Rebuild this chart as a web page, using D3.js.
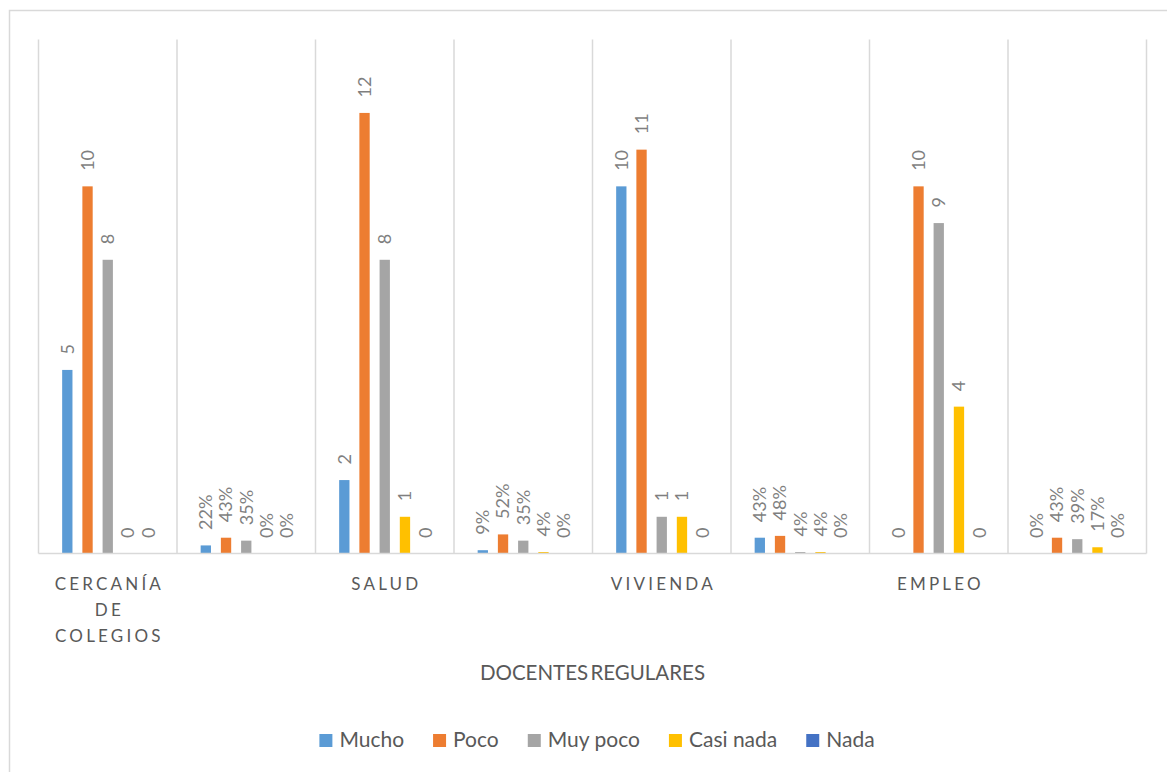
<!DOCTYPE html>
<html>
<head>
<meta charset="utf-8">
<script src="https://cdn.jsdelivr.net/npm/d3@7"></script>
<style>
  html, body { margin: 0; padding: 0; background: #ffffff; }
  svg { display: block; font-family: Lato, "Open Sans", sans-serif; }
</style>
</head>
<body>
<svg id="chart" width="1167" height="772"></svg>
<script>
// ---- data ----
const categories = ["CERCANÍA DE COLEGIOS", "", "SALUD", "", "VIVIENDA", "", "EMPLEO", ""];
const columnFormats = ["n", "%", "n", "%", "n", "%", "n", "%"];
const seriesNames = ["Mucho", "Poco", "Muy poco", "Casi nada", "Nada"];
const mucho    = [5, 0.22, 2, 0.09, 10, 0.43, 0, 0];
const poco     = [10, 0.43, 12, 0.52, 11, 0.48, 10, 0.43];
const muyPoco  = [8, 0.35, 8, 0.35, 1, 0.04, 9, 0.39];
const casiNada = [0, 0, 1, 0.04, 1, 0.04, 4, 0.17];
const nada     = [0, 0, 0, 0, 0, 0, 0, 0];
const axisTitle = "DOCENTES REGULARES";
const yMax = 14;

// ---- styles ----
const seriesValues = [mucho, poco, muyPoco, casiNada, nada];
const colors = ["#5B9BD5", "#ED7D31", "#A5A5A5", "#FFC000", "#4472C4"];
const gridColor = "#d9d9d9";

const svg = d3.select("#chart");
const plot = { left: 38.5, right: 1146.5, top: 39.5, bottom: 553.5 };

// outer border
svg.append("rect")
  .attr("x", 9.5).attr("y", 10.5)
  .attr("width", 1160).attr("height", 775)
  .attr("fill", "#fff").attr("stroke", gridColor).attr("stroke-width", 1.5);

const idx = d3.range(categories.length);
const x0 = d3.scaleBand().domain(idx).range([plot.left, plot.right]).padding(0);
const x1 = d3.scaleBand().domain(seriesNames).range([0, x0.bandwidth()])
  .paddingInner(0.49).paddingOuter(1.17);
const y = d3.scaleLinear().domain([0, yMax]).range([plot.bottom, plot.top]);

// vertical grid lines (category separators)
const sepX = idx.map(i => x0(i)).concat([plot.right]);
svg.append("g").selectAll("line").data(sepX).join("line")
  .attr("x1", d => d).attr("x2", d => d)
  .attr("y1", y(yMax)).attr("y2", y(0))
  .attr("stroke", gridColor).attr("stroke-width", 1.5);

// bars
const flat = [];
idx.forEach(i => seriesNames.forEach((s, k) => {
  flat.push({ i, s, k, v: seriesValues[k][i], fmt: columnFormats[i] });
}));

svg.append("g").selectAll("rect").data(flat.filter(d => d.v > 0)).join("rect")
  .attr("x", d => x0(d.i) + x1(d.s))
  .attr("y", d => y(d.v))
  .attr("width", x1.bandwidth())
  .attr("height", d => y(0) - y(d.v))
  .attr("fill", d => colors[d.k]);

// baseline
svg.append("line")
  .attr("x1", plot.left).attr("x2", plot.right)
  .attr("y1", y(0)).attr("y2", y(0))
  .attr("stroke", gridColor).attr("stroke-width", 1.5);

// data labels
const fmtPct = d3.format(".0%");
svg.append("g").selectAll("text").data(flat).join("text")
  .attr("transform", d => {
    const cx = x0(d.i) + x1(d.s) + x1.bandwidth() / 2;
    return `translate(${cx},${y(d.v) - 15.5}) rotate(-90)`;
  })
  .attr("dy", "0.35em")
  .attr("text-anchor", "start")
  .attr("font-size", 18)
  .attr("fill", "#7f7f7f")
  .text(d => d.fmt === "%" ? fmtPct(d.v) : d3.format("d")(d.v));

// category labels with wrapping
const catG = svg.append("g");
idx.forEach(i => {
  if (!categories[i]) return;
  const cx = x0(i) + x0.bandwidth() / 2;
  const t = catG.append("text")
    .attr("font-size", 17)
    .attr("letter-spacing", "3.2px")
    .attr("fill", "#595959")
    .attr("text-anchor", "middle");
  const words = categories[i].split(" ");
  let lines = [];
  let cur = [];
  const probe = t.append("tspan");
  words.forEach(w => {
    const test = cur.concat([w]).join(" ");
    probe.text(test);
    if (probe.node().getComputedTextLength() > x0.bandwidth() - 10 && cur.length) {
      lines.push(cur.join(" "));
      cur = [w];
    } else {
      cur.push(w);
    }
  });
  if (cur.length) lines.push(cur.join(" "));
  probe.remove();
  lines.forEach((ln, j) => {
    t.append("tspan")
      .attr("x", cx + 1.6)
      .attr("y", 590 + j * 26)
      .text(ln);
  });
});

// axis title
svg.append("text")
  .attr("x", (plot.left + plot.right) / 2)
  .attr("y", 680)
  .attr("text-anchor", "middle")
  .attr("font-size", 20.5)
  .attr("word-spacing", "-3px")
  .attr("fill", "#595959")
  .text(axisTitle);

// legend
const legend = svg.append("g");
const items = seriesNames.map((name, k) => {
  const g = legend.append("g");
  g.append("rect").attr("width", 13).attr("height", 13).attr("y", -13).attr("fill", colors[k]);
  const tx = g.append("text").attr("x", 20).attr("y", 0)
    .attr("font-size", 21).attr("fill", "#595959").text(name);
  return { g, w: 20 + tx.node().getComputedTextLength() };
});
const gap = 29;
const total = d3.sum(items, d => d.w) + gap * (items.length - 1);
let lx = 597 - total / 2;
items.forEach(it => {
  it.g.attr("transform", `translate(${lx},747)`);
  lx += it.w + gap;
});
</script>
</body>
</html>
